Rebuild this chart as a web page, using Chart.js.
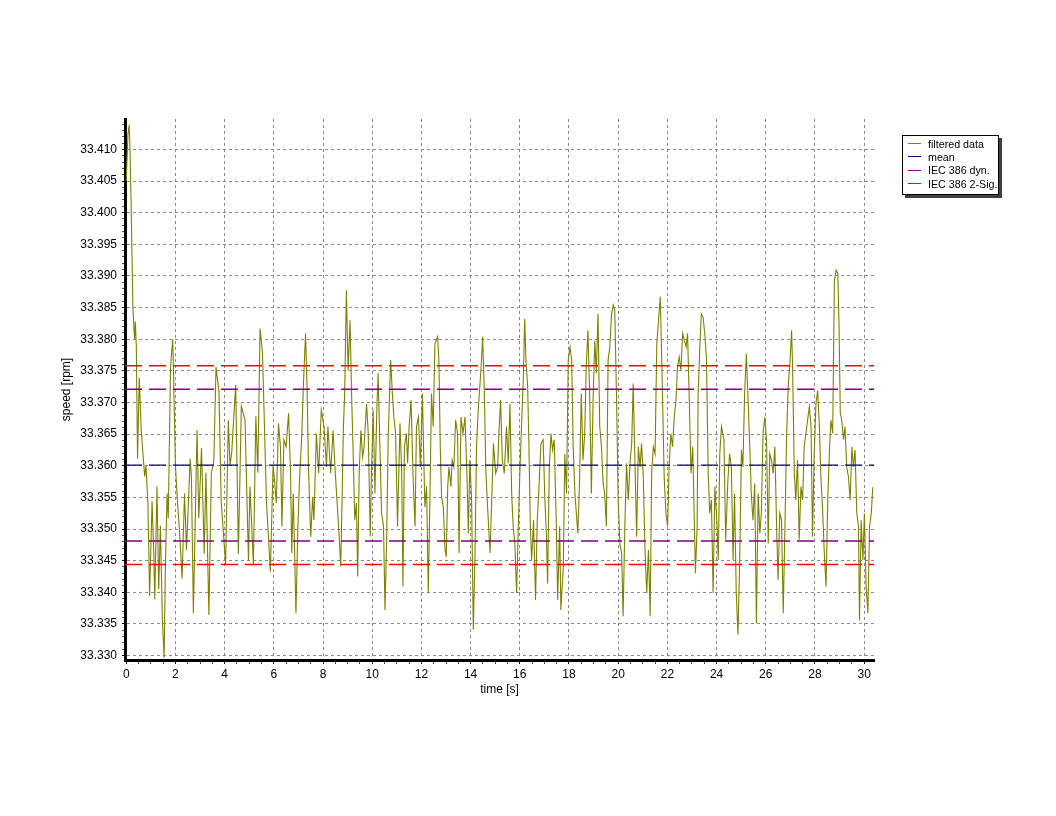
<!DOCTYPE html>
<html>
<head>
<meta charset="utf-8">
<script src="https://cdn.jsdelivr.net/npm/chart.js@4.4.1/dist/chart.umd.min.js"></script>
<style>
html,body{margin:0;padding:0;background:#fff;}
#wrap{position:relative;width:1056px;height:816px;}
#legend{position:absolute;left:902px;top:135px;width:97px;height:60px;border:1px solid #000;background:#fff;box-shadow:3px 3px 0 #404040;font:10.7px "Liberation Sans",Arial,sans-serif;box-sizing:border-box;padding-top:1px;color:#000;overflow:visible;}
.item{height:13.3px;display:flex;align-items:center;white-space:nowrap;}
.sw{flex:0 0 13px;width:13px;height:0;border-top:1px solid;margin:0 7px 0 5px;}
</style>
</head>
<body>
<div id="wrap">
<canvas id="c" width="1056" height="816"></canvas>
<div id="legend"></div>
</div>
<script>
// ---- data ----
const time_0_6 = [0,0.07,0.12,0.16,0.20,0.27,0.34,0.37,0.41,0.46,0.53,0.61,0.75,0.80,0.88,0.95,1.05,1.12,1.16,1.25,1.32,1.39,1.47,1.54,1.59,1.66,1.71,1.80,1.89,1.93,2.00,2.10,2.16,2.27,2.37,2.45,2.60,2.65,2.73,2.88,2.95,3.06,3.17,3.24,3.36,3.46,3.56,3.65,3.77,3.86,4.04,4.15,4.22,4.29,4.45,4.56,4.68,4.83,4.97,5.03,5.17,5.27,5.35,5.44,5.54,5.70,5.86,5.97];
const speed_0_6 = [33.4050,33.4123,33.4139,33.4089,33.4011,33.3850,33.3800,33.3828,33.3789,33.3611,33.3739,33.3656,33.3583,33.3600,33.3544,33.3394,33.3544,33.3461,33.3389,33.3567,33.3405,33.3505,33.3355,33.3297,33.3433,33.3556,33.3517,33.3756,33.3800,33.3733,33.3600,33.3533,33.3500,33.3422,33.3556,33.3467,33.3611,33.3583,33.3367,33.3656,33.3517,33.3628,33.3461,33.3589,33.3364,33.3589,33.3606,33.3756,33.3717,33.3544,33.3444,33.3672,33.3600,33.3622,33.3728,33.3461,33.3694,33.3672,33.3450,33.3567,33.3444,33.3678,33.3589,33.3817,33.3778,33.3544,33.3433,33.3600];

const time_6_12 = [6.03,6.10,6.19,6.27,6.33,6.41,6.50,6.60,6.68,6.73,6.79,6.84,6.90,6.98,7.05,7.14,7.20,7.29,7.35,7.41,7.50,7.58,7.63,7.73,7.82,7.93,8.04,8.14,8.20,8.31,8.41,8.50,8.65,8.72,8.78,8.83,8.88,8.95,9.02,9.10,9.16,9.22,9.29,9.36,9.41,9.47,9.54,9.61,9.67,9.77,9.84,9.92,9.97,10.04,10.11,10.19,10.24,10.30,10.38,10.46,10.52,10.59,10.65,10.75,10.82,10.88,10.95,11.03,11.13,11.20,11.25,11.31,11.39,11.44,11.50,11.58,11.66,11.74,11.80,11.88,11.96,12.04];
const speed_6_12 = [33.3577,33.3541,33.3667,33.3630,33.3504,33.3641,33.3630,33.3683,33.3588,33.3462,33.3556,33.3472,33.3367,33.3504,33.3583,33.3651,33.3725,33.3809,33.3725,33.3598,33.3488,33.3551,33.3514,33.3651,33.3588,33.3688,33.3662,33.3598,33.3662,33.3588,33.3656,33.3588,33.3493,33.3441,33.3556,33.3662,33.3714,33.3877,33.3751,33.3830,33.3714,33.3630,33.3514,33.3541,33.3425,33.3588,33.3656,33.3614,33.3630,33.3698,33.3651,33.3488,33.3588,33.3688,33.3556,33.3693,33.3746,33.3651,33.3525,33.3504,33.3372,33.3488,33.3646,33.3767,33.3714,33.3677,33.3651,33.3504,33.3667,33.3588,33.3409,33.3630,33.3651,33.3604,33.3662,33.3704,33.3583,33.3504,33.3662,33.3677,33.3598,33.3714];

const time_12_18 = [12.14,12.21,12.28,12.35,12.41,12.48,12.55,12.66,12.71,12.77,12.82,12.89,12.96,13.01,13.07,13.12,13.20,13.25,13.32,13.39,13.47,13.53,13.61,13.69,13.77,13.85,13.91,13.97,14.04,14.11,14.18,14.24,14.31,14.42,14.49,14.56,14.62,14.69,14.79,14.85,14.93,15.02,15.10,15.15,15.22,15.29,15.37,15.46,15.53,15.60,15.67,15.73,15.80,15.87,15.94,16.01,16.07,16.14,16.20,16.25,16.32,16.37,16.43,16.48,16.56,16.64,16.71,16.78,16.86,16.95,17.02,17.08,17.13,17.20,17.27,17.33,17.40,17.48,17.54,17.62,17.67,17.77,17.83,17.90,17.97,18.04,18.11,18.17,18.24];
const speed_12_18 = [33.3535,33.3567,33.3399,33.3556,33.3714,33.3662,33.3793,33.3804,33.3767,33.3625,33.3551,33.3535,33.3467,33.3456,33.3567,33.3598,33.3567,33.3609,33.3598,33.3672,33.3651,33.3462,33.3677,33.3651,33.3677,33.3588,33.3493,33.3609,33.3546,33.3341,33.3462,33.3630,33.3688,33.3751,33.3804,33.3714,33.3593,33.3535,33.3462,33.3535,33.3635,33.3588,33.3598,33.3651,33.3704,33.3609,33.3588,33.3662,33.3604,33.3698,33.3556,33.3504,33.3477,33.3399,33.3504,33.3598,33.3662,33.3735,33.3832,33.3767,33.3725,33.3635,33.3504,33.3451,33.3514,33.3388,33.3514,33.3567,33.3635,33.3641,33.3546,33.3493,33.3414,33.3598,33.3651,33.3625,33.3641,33.3514,33.3388,33.3504,33.3372,33.3441,33.3619,33.3556,33.3767,33.3788,33.3767,33.3630,33.3556];

const time_18_24 = [18.36,18.43,18.50,18.57,18.64,18.70,18.77,18.84,18.91,18.98,19.05,19.11,19.18,19.25,19.32,19.39,19.45,19.52,19.59,19.66,19.73,19.80,19.86,19.93,20.00,20.07,20.14,20.20,20.27,20.34,20.41,20.49,20.55,20.61,20.68,20.75,20.82,20.89,20.95,21.02,21.09,21.16,21.23,21.30,21.36,21.43,21.50,21.57,21.64,21.71,21.75,21.80,21.87,21.94,22.01,22.07,22.14,22.21,22.28,22.35,22.41,22.48,22.55,22.62,22.69,22.76,22.82,22.89,22.96,23.03,23.10,23.14,23.21,23.25,23.32,23.38,23.45,23.52,23.59,23.66,23.72,23.79,23.86,23.93,24.00,24.07,24.13,24.20,24.30,24.37];
const speed_18_24 = [33.3493,33.3577,33.3714,33.3609,33.3651,33.3756,33.3814,33.3714,33.3556,33.3704,33.3798,33.3746,33.3840,33.3662,33.3630,33.3572,33.3556,33.3504,33.3767,33.3788,33.3840,33.3854,33.3846,33.3714,33.3546,33.3477,33.3462,33.3362,33.3504,33.3604,33.3546,33.3609,33.3635,33.3730,33.3609,33.3488,33.3630,33.3598,33.3635,33.3583,33.3467,33.3399,33.3467,33.3362,33.3588,33.3630,33.3619,33.3793,33.3830,33.3867,33.3804,33.3714,33.3583,33.3525,33.3504,33.3598,33.3651,33.3630,33.3677,33.3704,33.3756,33.3772,33.3751,33.3809,33.3798,33.3788,33.3809,33.3704,33.3588,33.3630,33.3504,33.3430,33.3504,33.3714,33.3788,33.3840,33.3835,33.3809,33.3767,33.3588,33.3525,33.3546,33.3399,33.3567,33.3520,33.3451,33.3619,33.3662,33.3641,33.3483];

const time_24_30 = [24.46,24.53,24.60,24.67,24.73,24.80,24.87,24.94,25.01,25.07,25.14,25.21,25.28,25.35,25.41,25.48,25.55,25.62,25.69,25.76,25.82,25.89,25.96,26.03,26.10,26.16,26.23,26.30,26.37,26.44,26.50,26.57,26.64,26.71,26.78,26.84,26.91,26.98,27.05,27.09,27.16,27.22,27.29,27.36,27.43,27.50,27.56,27.63,27.70,27.77,27.84,27.90,27.97,28.04,28.11,28.18,28.24,28.31,28.38,28.45,28.52,28.59,28.65,28.72,28.79,28.86,28.93,28.98,29.03,29.09,29.16,29.22,29.29,29.36,29.43,29.50,29.56,29.63,29.70,29.77,29.81,29.88,29.95,30.01,30.08,30.15,30.22,30.29,30.35];
const speed_24_30 = [33.3577,33.3619,33.3598,33.3451,33.3556,33.3399,33.3333,33.3451,33.3625,33.3598,33.3714,33.3777,33.3704,33.3630,33.3556,33.3514,33.3572,33.3351,33.3556,33.3493,33.3525,33.3651,33.3677,33.3641,33.3477,33.3619,33.3609,33.3588,33.3630,33.3504,33.3420,33.3525,33.3514,33.3367,33.3504,33.3635,33.3725,33.3761,33.3814,33.3756,33.3588,33.3546,33.3609,33.3483,33.3567,33.3546,33.3630,33.3651,33.3672,33.3693,33.3662,33.3488,33.3619,33.3698,33.3719,33.3662,33.3583,33.3530,33.3462,33.3409,33.3546,33.3625,33.3672,33.3651,33.3893,33.3909,33.3904,33.3819,33.3683,33.3672,33.3641,33.3662,33.3598,33.3583,33.3546,33.3630,33.3598,33.3625,33.3525,33.3504,33.3356,33.3514,33.3451,33.3525,33.3409,33.3367,33.3504,33.3525,33.3566];

const seriesLabels = ['filtered data', 'mean', 'IEC 386 dyn.', 'IEC 386 2-Sig.'];
const meanValue = 33.3601;
const dynLimits = [33.3721, 33.3481];
const sigLimits = [33.3758, 33.3444];
const xTickLabels = ['0','2','4','6','8','10','12','14','16','18','20','22','24','26','28','30'];
const yTickLabels = ['33.330','33.335','33.340','33.345','33.350','33.355','33.360','33.365','33.370','33.375','33.380','33.385','33.390','33.395','33.400','33.405','33.410'];
const xTitle = 'time [s]';
const yTitle = 'speed [rpm]';

// ---- build chart ----
const FONT = '"Liberation Sans", Arial, sans-serif';
const COLORS = ['#808000', '#000080', '#800080', '#ff0000'];
const X_MIN = -0.05, X_MAX = 30.4, Y_MIN = 33.3293, Y_MAX = 33.4148;

const tAll = [].concat(time_0_6, time_6_12, time_12_18, time_18_24, time_24_30);
const vAll = [].concat(speed_0_6, speed_6_12, speed_12_18, speed_18_24, speed_24_30);
const n = Math.min(tAll.length, vAll.length);
const filtered = [];
for (let i = 0; i < n; i++) filtered.push({x: tAll[i], y: vAll[i]});

const hline = v => [{x: X_MIN, y: v}, {x: X_MAX, y: v}];
const dash = [17, 7];

const xMajor = xTickLabels.map(Number);
const yMajor = yTickLabels.map(Number);
const xTickVals = [];
for (let k = 0; k <= 60; k++) xTickVals.push(k / 2);
const yTickVals = [];
for (let k = 33330; k <= 33414; k++) yTickVals.push(k / 1000);
const isMajorX = v => xMajor.some(m => Math.abs(m - v) < 1e-6);
const isMajorY = v => yMajor.some(m => Math.abs(m - v) < 1e-7);

const lineDs = (label, data, color, order) => ({
  label, data, borderColor: color, backgroundColor: color, borderWidth: 1.4,
  borderDash: dash, pointRadius: 0, fill: false, tension: 0, order
});

const datasets = [
  {label: seriesLabels[0], data: filtered, borderColor: COLORS[0], backgroundColor: COLORS[0], borderWidth: 1.1, pointRadius: 0, tension: 0, fill: false, order: 5},
  lineDs(seriesLabels[1], hline(meanValue), COLORS[1], 0),
  lineDs(seriesLabels[2], hline(dynLimits[0]), COLORS[2], 0),
  lineDs(seriesLabels[2], hline(dynLimits[1]), COLORS[2], 0),
  lineDs(seriesLabels[3], hline(sigLimits[0]), COLORS[3], 0),
  lineDs(seriesLabels[3], hline(sigLimits[1]), COLORS[3], 0)
];

const gridColorX = c => (c.tick && isMajorX(c.tick.value)) ? '#8a8a8a' : 'rgba(0,0,0,0)';
const gridColorY = c => (c.tick && isMajorY(c.tick.value)) ? '#8a8a8a' : 'rgba(0,0,0,0)';
const tickColorX = c => (c.tick && isMajorX(c.tick.value)) ? '#000' : '#444';
const tickColorY = c => (c.tick && isMajorY(c.tick.value)) ? '#000' : '#555';

new Chart(document.getElementById('c'), {
  type: 'line',
  data: {datasets},
  options: {
    responsive: false,
    animation: false,
    devicePixelRatio: 1,
    layout: {padding: {left: 55, right: 182, top: 119, bottom: 115}},
    plugins: {legend: {display: false}, tooltip: {enabled: false}},
    scales: {
      x: {
        type: 'linear', min: X_MIN, max: X_MAX,
        afterBuildTicks: s => { s.ticks = xTickVals.map(v => ({value: v})); },
        afterFit: s => { s.height = 41; },
        ticks: {autoSkip: false, maxRotation: 0, color: '#000', padding: 3,
          font: {family: FONT, size: 12},
          callback: v => isMajorX(v) ? xTickLabels[xMajor.findIndex(m => Math.abs(m - v) < 1e-6)] : ''},
        grid: {color: gridColorX, lineWidth: 1, tickLength: 4, tickColor: tickColorX, drawTicks: true},
        border: {display: true, color: '#000', width: 3, dash: [3, 3]},
        title: {display: true, text: xTitle, color: '#000', font: {family: FONT, size: 12}, padding: {top: 4, bottom: 4}}
      },
      y: {
        type: 'linear', min: Y_MIN, max: Y_MAX,
        afterBuildTicks: s => { s.ticks = yTickVals.map(v => ({value: v})); },
        afterFit: s => { s.width = 70; },
        ticks: {autoSkip: false, color: '#000', padding: 5,
          font: {family: FONT, size: 12},
          callback: v => isMajorY(v) ? yTickLabels[yMajor.findIndex(m => Math.abs(m - v) < 1e-7)] : ''},
        grid: {color: gridColorY, lineWidth: 1, tickLength: 3, tickColor: tickColorY, drawTicks: true},
        border: {display: true, color: '#000', width: 3, dash: [3, 3]},
        title: {display: true, text: yTitle, color: '#000', font: {family: FONT, size: 12}, padding: {top: 4, bottom: 4}}
      }
    }
  }
});

// HTML legend built from the series labels/colours
const lg = document.getElementById('legend');
seriesLabels.forEach((lab, i) => {
  const row = document.createElement('div');
  row.className = 'item';
  const sw = document.createElement('span');
  sw.className = 'sw';
  sw.style.borderTopColor = COLORS[i];
  const tx = document.createElement('span');
  tx.textContent = lab;
  row.appendChild(sw); row.appendChild(tx);
  lg.appendChild(row);
});
</script>
</body>
</html>
